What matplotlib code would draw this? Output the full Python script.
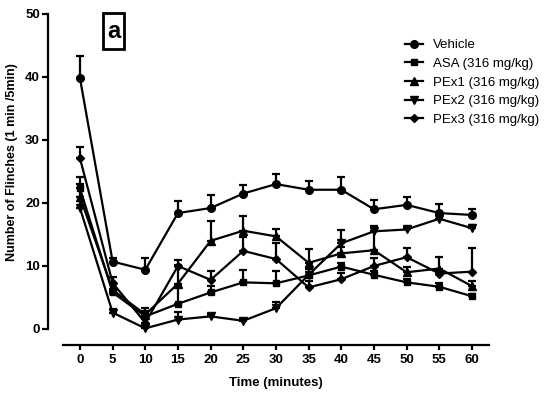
import matplotlib
import numpy as np
import matplotlib.pyplot as plt
from matplotlib.patches import Rectangle

matplotlib.use("Agg")

plt.rcParams['font.family'] = ['Liberation Sans', 'DejaVu Sans']

time = [0, 5, 10, 15, 20, 25, 30, 35, 40, 45, 50, 55, 60]
time_ticks = [0, 5, 10, 15, 20, 25, 30, 35, 40, 45, 50, 55, 60]
y_ticks = [0, 10, 20, 30, 40, 50]

vehicle = [39.8, 10.7, 9.4, 18.4, 19.2, 21.5, 23.0, 22.1, 22.1, 19.0, 19.7, 18.4, 18.1]
vehicle_err = [3.5, 0.6, 1.9, 1.9, 2.0, 1.4, 1.6, 1.4, 2.0, 1.5, 1.2, 1.4, 0.9]

asa = [22.3, 5.8, 2.0, 4.0, 5.8, 7.4, 7.25, 8.5, 9.9, 8.6, 7.4, 6.7, 5.2]
asa_err = [1.9, 0.6, 0.8, 3.0, 1.0, 2.0, 2.0, 1.0, 0.5, 0.6, 0.5, 0.6, 0.4]

pex1 = [21.0, 6.2, 2.3, 7.2, 14.0, 15.6, 14.7, 10.5, 12.0, 12.5, 9.0, 9.6, 6.8]
pex1_err = [2.0, 1.0, 1.0, 3.0, 3.2, 2.4, 1.1, 2.2, 1.0, 3.8, 0.9, 1.9, 0.8]

pex2 = [19.2, 2.6, 0.1, 1.5, 2.0, 1.3, 3.3, 8.6, 13.6, 15.5, 15.8, 17.5, 16.0]
pex2_err = [1.8, 0.5, 0.3, 1.2, 0.4, 0.3, 1.0, 1.2, 2.1, 0.6, 0.4, 0.6, 0.5]

pex3 = [27.1, 7.3, 1.0, 10.0, 7.8, 12.4, 11.1, 6.6, 7.9, 10.0, 11.4, 8.8, 9.1]
pex3_err = [1.8, 0.9, 1.5, 1.0, 1.4, 2.2, 2.5, 1.0, 1.0, 1.3, 1.4, 0.5, 3.7]

labels = ["Vehicle", "ASA (316 mg/kg)", "PEx1 (316 mg/kg)", "PEx2 (316 mg/kg)", "PEx3 (316 mg/kg)"]

fig = plt.figure(figsize=(5.5, 3.97), dpi=100)
ax = fig.add_axes([0.1145, 0.1713, 0.7745, 0.7935])

series = [
    (vehicle, vehicle_err, 'o', 5.5),
    (asa, asa_err, 's', 5.0),
    (pex1, pex1_err, '^', 5.5),
    (pex2, pex2_err, 'v', 5.5),
    (pex3, pex3_err, 'D', 4.0),
]

for (vals, err, mk, ms), lab in zip(series, labels):
    lower = np.zeros(len(err))
    ax.errorbar(time, vals, yerr=[lower, err], color='black', marker=mk, markersize=ms,
                linewidth=1.6, elinewidth=1.6, capsize=3, capthick=1.6,
                label=lab, clip_on=False)

ax.set_xlim(-2.6, 62.6)
ax.set_ylim(0, 50)
ax.set_xticks(time_ticks)
ax.set_yticks(y_ticks)

# spines offset like GraphPad (points)
ax.spines['top'].set_visible(False)
ax.spines['right'].set_visible(False)
ax.spines['left'].set_position(('outward', 10.8))
ax.spines['bottom'].set_position(('outward', 11.5))
ax.spines['left'].set_linewidth(1.6)
ax.spines['bottom'].set_linewidth(1.6)
ax.tick_params(axis='y', width=1.6, length=4.3, direction='out', labelsize=9.5, pad=1.5)
ax.tick_params(axis='x', width=1.6, length=3.5, direction='out', labelsize=9.5, pad=3)
for t in ax.get_xticklabels() + ax.get_yticklabels():
    t.set_fontweight('bold')

ax.set_xlabel("Time (minutes)", fontsize=9.5, fontweight='bold')
ax.xaxis.set_label_coords(0.5, -0.152)
ax.set_ylabel("Number of Flinches (1 min /5min)", fontsize=9, fontweight='bold')
ax.yaxis.set_label_coords(-0.1045, 0.53)

handles, labs = ax.get_legend_handles_labels()
handles = [h[0] for h in handles]
leg = ax.legend(handles, labs, loc='upper left', bbox_to_anchor=(0.803, 0.92), frameon=False,
                fontsize=9.5, handlelength=1.35, handletextpad=0.75, labelspacing=0.48,
                borderpad=0, borderaxespad=0)

# boxed panel letter
ax.add_patch(Rectangle((0.0939, 0.8889), 0.0493, 0.1143, transform=ax.transAxes,
                       facecolor='white', edgecolor='black', linewidth=2, clip_on=False, zorder=5))
ax.text(0.1185, 0.945, "a", transform=ax.transAxes, fontsize=17, fontweight='bold',
        ha='center', va='center', zorder=6)

plt.savefig("out.png", dpi=100)
plt.close()
